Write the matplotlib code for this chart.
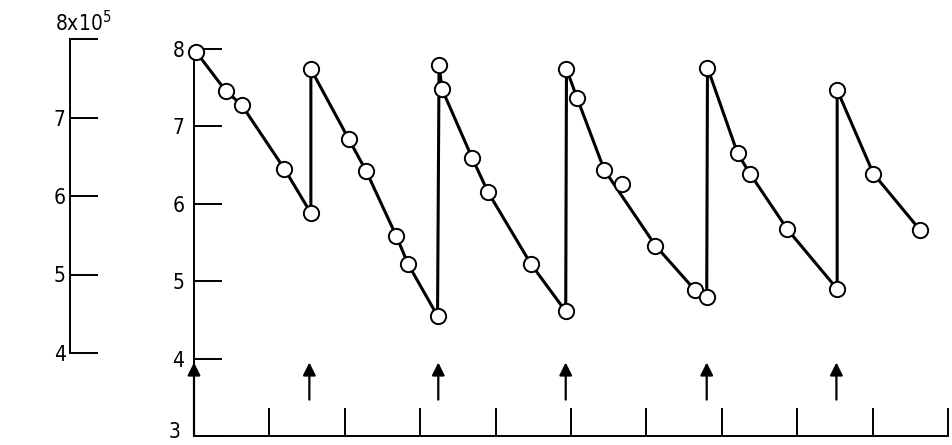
import matplotlib.pyplot as plt
import numpy as np

plt.rcParams['font.family'] = ['DejaVu Sans']
plt.rcParams['font.stretch'] = 'condensed'
plt.rcParams['mathtext.fontset'] = 'dejavusans'

# measured points (time, value)
times = [0.03, 0.42, 0.63, 1.20, 1.55, 1.55, 2.05, 2.28, 2.68, 2.84, 3.23,
         3.25, 3.29, 3.69, 3.90, 4.47, 4.93, 4.94, 5.08, 5.44, 5.68, 6.12,
         6.64, 6.80, 6.81, 7.21, 7.38, 7.87, 8.53, 8.53, 9.01, 9.63]
values = [7.96, 7.46, 7.28, 6.45, 5.88, 7.74, 6.84, 6.43, 5.59, 5.22, 4.55,
          7.79, 7.48, 6.59, 6.15, 5.22, 4.61, 7.74, 7.37, 6.44, 6.26, 5.46,
          4.89, 4.80, 7.76, 6.65, 6.38, 5.67, 4.90, 7.47, 6.39, 5.66]
# points that lie off the drawn curve
off_curve = [20]

# dosing times (arrows)
dose_times = [0, 1.53, 3.24, 4.93, 6.80, 8.52]

main_yticks = [3, 4, 5, 6, 7, 8]
main_labels = ['', '4', '5', '6', '7', '8']
left_yticks = [4, 5, 6, 7, 8]
left_labels = ['4', '5', '6', '7', '']

W, H = 952, 445
fig = plt.figure(figsize=(W / 100, H / 100), dpi=100)

# main axes
ax = fig.add_axes([194 / W, 9 / H, 754 / W, 387 / H])
ax.set_xlim(0, 10)
ax.set_ylim(3, 8)
for s in ['top', 'right']:
    ax.spines[s].set_visible(False)
for s in ['left', 'bottom']:
    ax.spines[s].set_linewidth(1.4)

line_t = [t for i, t in enumerate(times) if i not in off_curve]
line_v = [v for i, v in enumerate(values) if i not in off_curve]
ax.plot(line_t, line_v, color='black', lw=2.2, zorder=2, clip_on=False)
ax.plot(times, values, 'o', ms=11, mfc='white', mec='black', mew=1.4,
        zorder=3, clip_on=False)

for d in dose_times:
    base = 3.0 if d == 0 else 3.47
    ax.annotate('', xy=(d, 3.95), xytext=(d, base),
                arrowprops=dict(arrowstyle='-|>', lw=1.6, color='black',
                                mutation_scale=19, shrinkA=0, shrinkB=0))

ax.set_yticks(main_yticks)
ax.set_yticklabels(main_labels)
ax.set_xticks(range(1, 11))
ax.set_xticklabels([])
ax.tick_params(axis='y', direction='in', length=20, width=1.4, pad=7,
               labelsize=15)
ax.tick_params(axis='x', direction='in', length=20, width=1.4)
# bottom label "3" sits close to the picture edge, so place it by hand
ax.annotate('3', xy=(0, 3), xytext=(-10, 3), textcoords='offset points',
            ha='right', va='center', fontsize=15)

# separate scale on the left
ax2 = fig.add_axes([70 / W, 92 / H, 30 / W, 314 / H])
ax2.set_ylim(4, 8)
ax2.set_xlim(0, 1)
ax2.patch.set_visible(False)
for s in ['top', 'right', 'bottom']:
    ax2.spines[s].set_visible(False)
ax2.spines['left'].set_linewidth(1.4)
ax2.set_xticks([])
ax2.set_yticks(left_yticks)
ax2.set_yticklabels(left_labels)
ax2.tick_params(axis='y', direction='in', length=20, width=1.4, pad=3,
                labelsize=15)
ax2.text(0.45, 8.05, '8x10$^5$', ha='center', va='bottom', fontsize=15)

fig.savefig('out.png', dpi=100)
